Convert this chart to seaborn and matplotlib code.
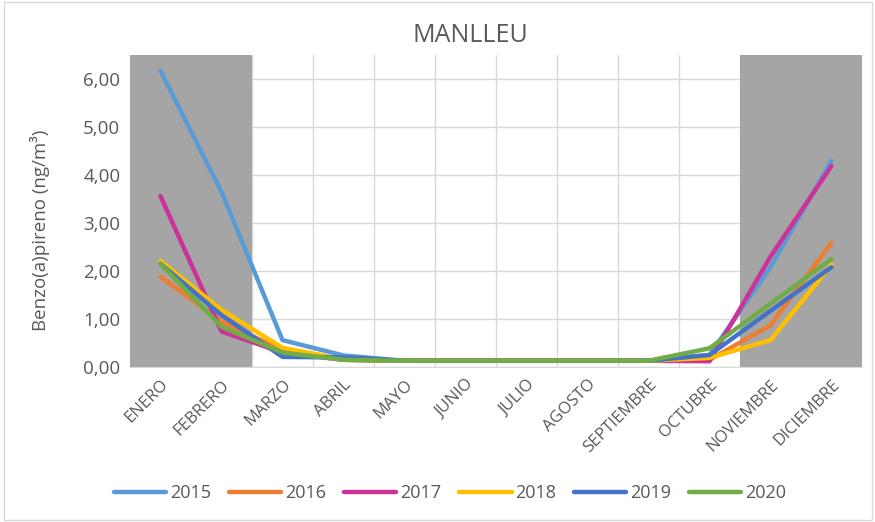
import numpy as np
import pandas as pd
import matplotlib
matplotlib.use("Agg")
import matplotlib.pyplot as plt
import seaborn as sns

months = ["ENERO", "FEBRERO", "MARZO", "ABRIL", "MAYO", "JUNIO", "JULIO",
          "AGOSTO", "SEPTIEMBRE", "OCTUBRE", "NOVIEMBRE", "DICIEMBRE"]
years = ["2015", "2016", "2017", "2018", "2019", "2020"]
v2015 = [6.17, 3.65, 0.56, 0.24, 0.13, 0.13, 0.13, 0.13, 0.13, 0.25, 2.08, 4.30]
v2016 = [1.88, 0.95, 0.35, 0.15, 0.13, 0.13, 0.13, 0.13, 0.13, 0.15, 0.87, 2.59]
v2017 = [3.56, 0.74, 0.30, 0.15, 0.13, 0.13, 0.13, 0.13, 0.13, 0.12, 2.30, 4.19]
v2018 = [2.21, 1.19, 0.40, 0.16, 0.13, 0.13, 0.13, 0.13, 0.13, 0.19, 0.56, 2.13]
v2019 = [2.15, 1.08, 0.21, 0.20, 0.13, 0.13, 0.13, 0.13, 0.13, 0.25, 1.17, 2.08]
v2020 = [2.15, 0.84, 0.30, 0.15, 0.13, 0.13, 0.13, 0.13, 0.13, 0.39, 1.32, 2.25]
colors = ["#5B9BD5", "#ED7D31", "#CC3399", "#FFC000", "#4472C4", "#70AD47"]

series = [v2015, v2016, v2017, v2018, v2019, v2020]
df = pd.DataFrame({
    "mes": np.tile(months, len(years)),
    "idx": np.tile(np.arange(len(months)), len(years)),
    "year": np.repeat(years, len(months)),
    "valor": np.concatenate(series),
})

sns.set_style("white")
plt.rcParams["font.family"] = ["Open Sans", "DejaVu Sans"]
txt = "#595959"

fig = plt.figure(figsize=(8.75, 5.22), dpi=100)
ax = fig.add_axes([130/875, 1-367/522, (862-130)/875, (367-55)/522])

sns.lineplot(data=df, x="idx", y="valor", hue="year", palette=colors,
             linewidth=3.2, ax=ax, zorder=3, legend=True, solid_capstyle="round")

ax.axvspan(-0.5, 1.5, color="#A5A5A5", zorder=2, lw=0)
ax.axvspan(9.5, 11.5, color="#A5A5A5", zorder=2, lw=0)

ax.set_xlim(-0.5, 11.5)
ax.set_ylim(0, 6.5)
ax.set_yticks(np.arange(0, 7, 1))
ax.set_yticklabels([f"{v:.2f}".replace(".", ",") for v in np.arange(0, 7, 1)],
                   color=txt, fontsize=13.5)
ax.set_xticks(range(12))
ax.set_xticklabels(months, rotation=45, ha="right", rotation_mode="anchor",
                   color=txt, fontsize=12)
ax.set_xticks(np.arange(-0.5, 12, 1), minor=True)
ax.tick_params(axis="both", length=0, pad=7)
ax.tick_params(axis="x", which="minor", length=0)
ax.grid(axis="y", which="major", color="#D9D9D9", lw=1, zorder=1)
ax.grid(axis="x", which="minor", color="#D9D9D9", lw=1, zorder=1)
ax.grid(axis="x", which="major", visible=False)
for s in ["top", "right", "left"]:
    ax.spines[s].set_visible(False)
ax.spines["bottom"].set_color("#D9D9D9")
ax.set_xlabel("")
ax.set_ylabel("")
fig.text(40/875, 1-230/522, "Benzo(a)pireno (ng/m³)", color=txt, fontsize=13.5,
         rotation=90, ha="center", va="center")
fig.text(470/875, 1-35/522, "MANLLEU", color=txt, fontsize=18,
         ha="center", va="center")

handles, labels = ax.get_legend_handles_labels()
ax.legend(handles, labels, loc="center", bbox_to_anchor=(450/875, 1-493/522),
          bbox_transform=fig.transFigure, ncol=6, frameon=False, fontsize=13,
          handlelength=2.9, columnspacing=1.0, handletextpad=0.2,
          labelcolor=txt)

fig.patches.append(plt.Rectangle((0.004, 0.004), 0.992, 0.992, transform=fig.transFigure,
                                 fill=False, edgecolor="#D9D9D9", lw=1))
fig.savefig("out.png", dpi=100, facecolor="white")
